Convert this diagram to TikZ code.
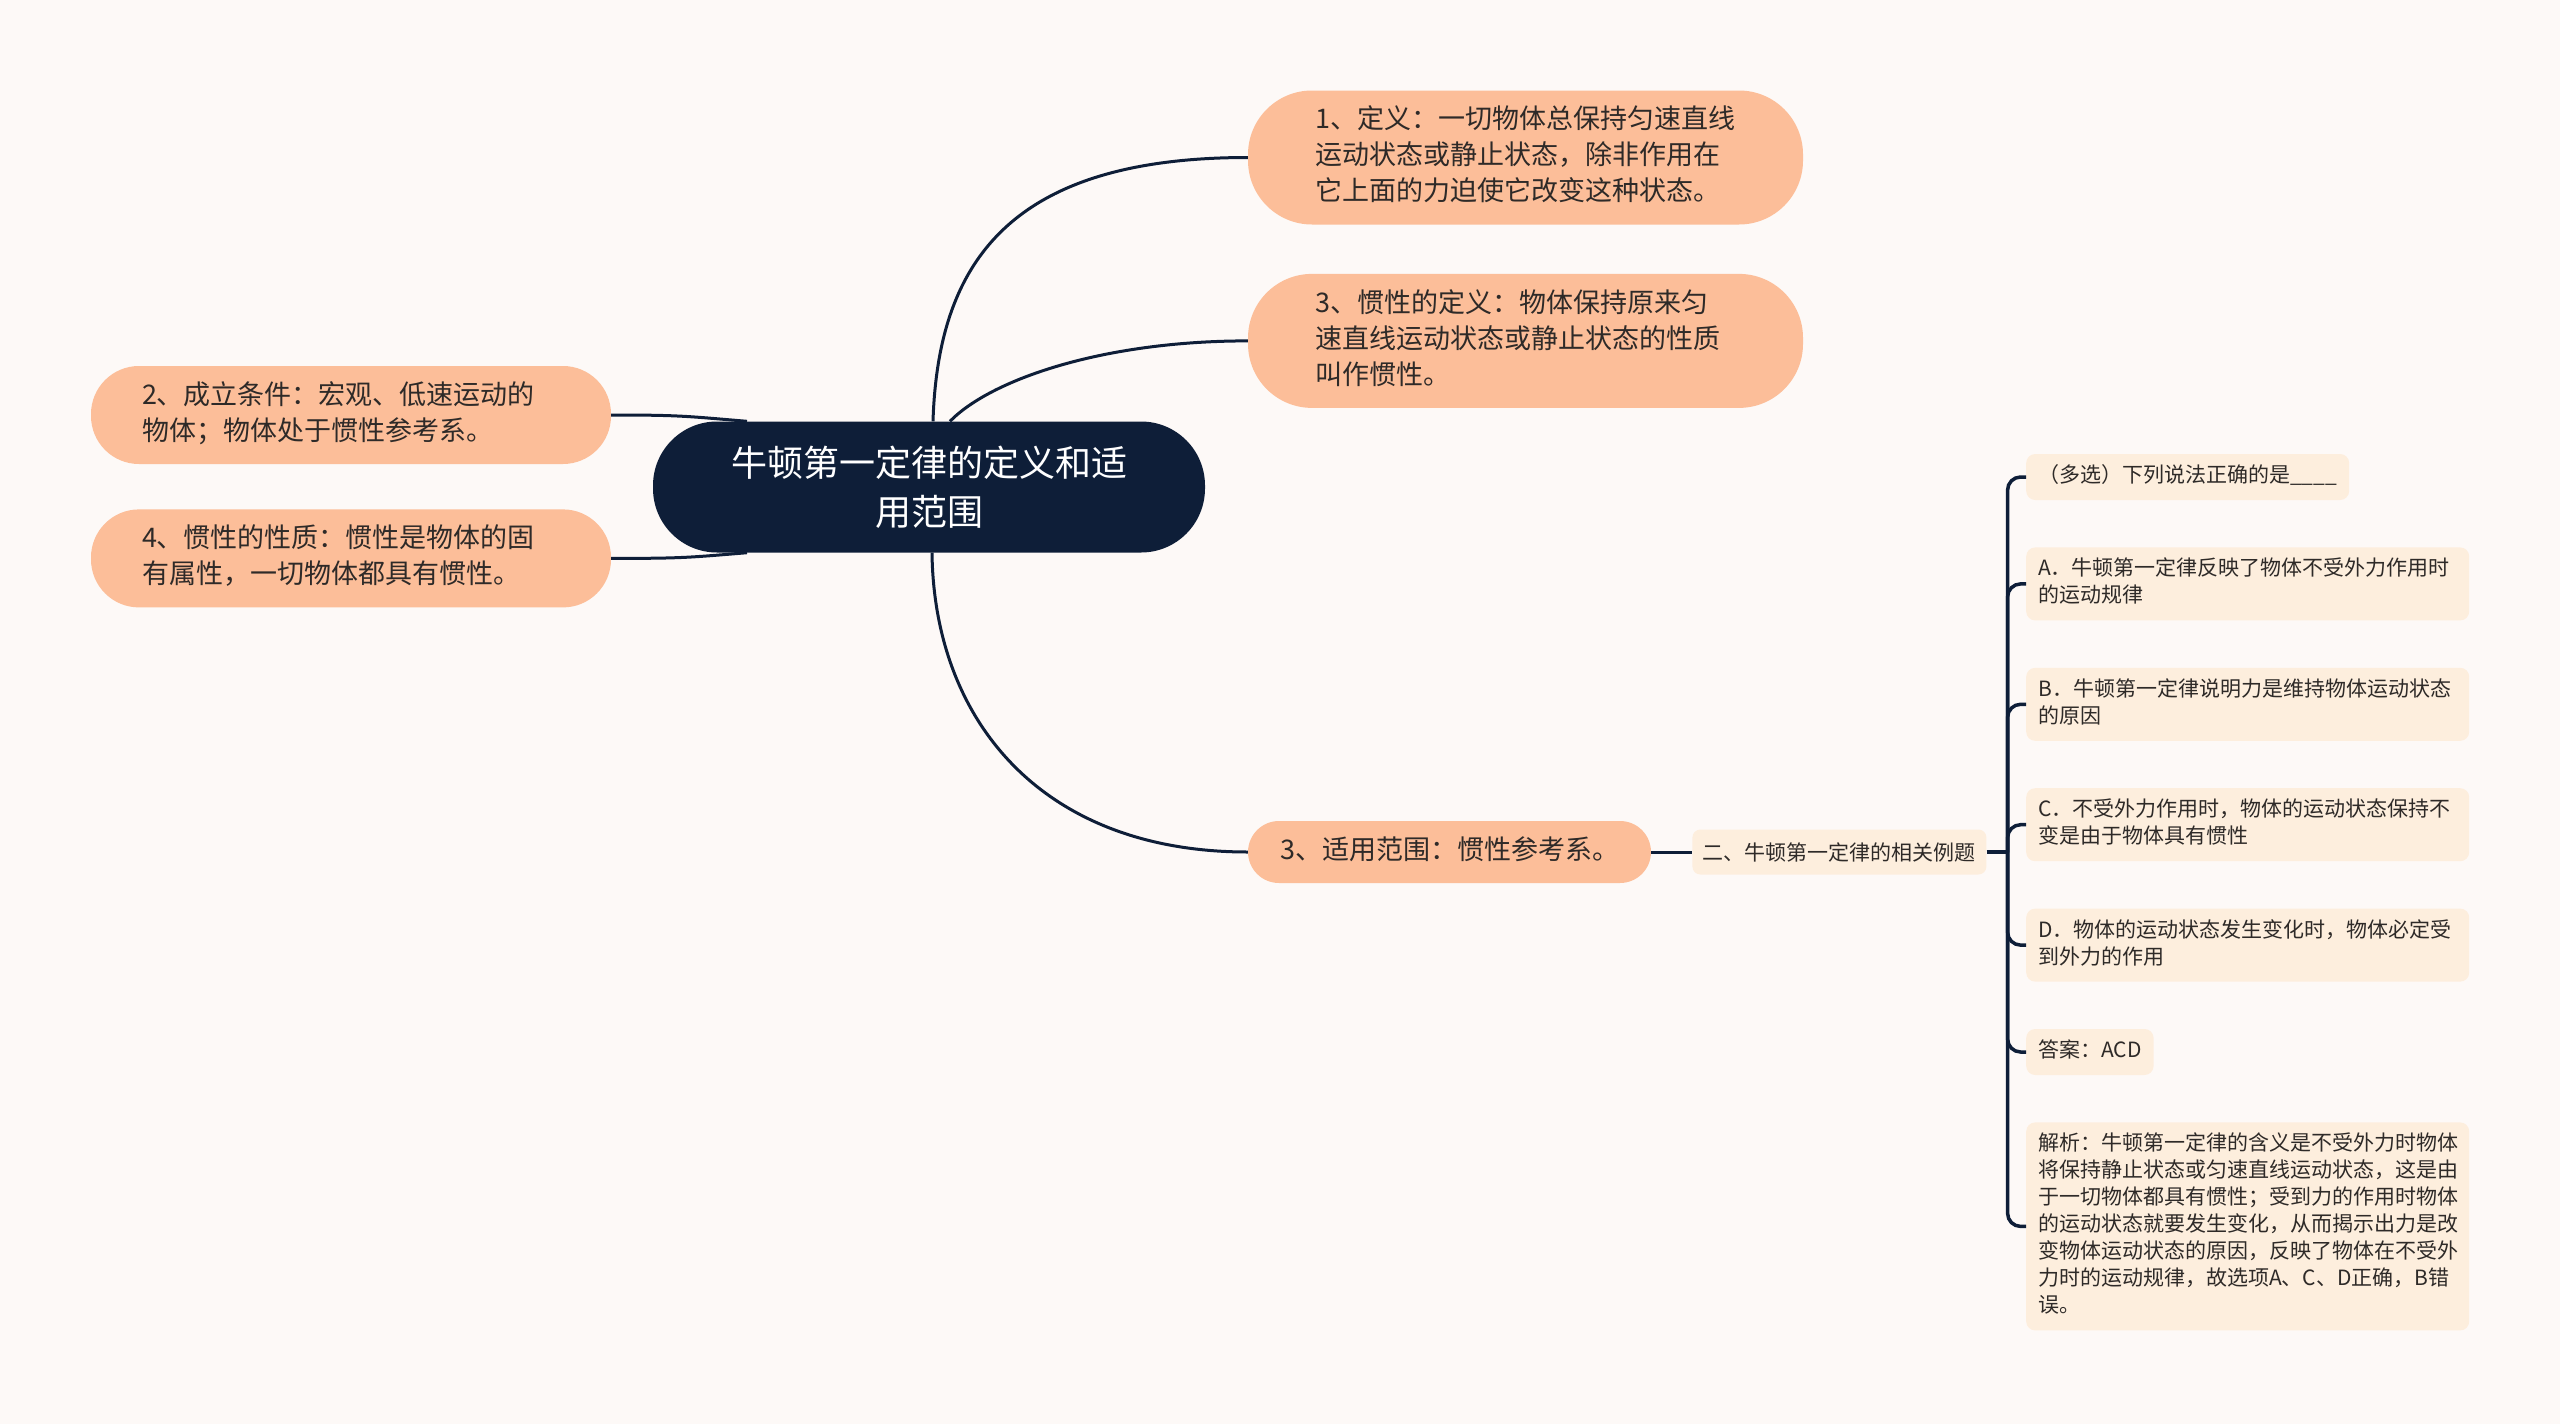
\documentclass[tikz,border=0pt]{standalone}
\usepackage{fontspec}
\setmainfont{Noto Sans CJK SC}
\usetikzlibrary{positioning}

\definecolor{paper}{HTML}{FDF9F7}
\definecolor{navy}{HTML}{0E1E38}
\definecolor{peach}{HTML}{FCBE99}
\definecolor{cream}{HTML}{FDEEDD}
\definecolor{ink}{HTML}{2E2A28}

\begin{document}
\begin{tikzpicture}[
  x=1pt, y=-1pt,
  central/.style={fill=navy, text=white, rounded corners=64pt, minimum width=552pt, minimum height=131pt, align=center, font=\fontsize{36}{49}\selectfont},
  topic/.style={fill=peach, text=ink, align=left, inner ysep=13pt, font=\fontsize{27}{36}\selectfont, execute at begin node=\strut, execute at end node=\strut},
  subtopic/.style={fill=cream, text=ink, rounded corners=8pt, inner xsep=10.5pt, minimum height=45pt, font=\fontsize{21}{26}\selectfont},
  qbox/.style={fill=cream, text=ink, rounded corners=9pt, align=left, inner xsep=12pt, inner ysep=9.5pt, font=\fontsize{21}{27}\selectfont, execute at begin node=\strut, execute at end node=\strut},
  branch/.style={draw=navy, line width=3pt},
  spinel/.style={draw=navy, line width=3.5pt, rounded corners=13pt}
]
  \fill[paper] (0,0) rectangle (2560,1424);

  % root and first level
  \node[central] (root) at (929,487) {牛顿第一定律的定义和适\\用范围};
  \node[topic, rounded corners=64pt, text width=420pt, inner xsep=67.5pt] (defn) at (1525.5,157.5) {1、定义：一切物体总保持匀速直线\\运动状态或静止状态，除非作用在\\它上面的力迫使它改变这种状态。};
  \node[topic, rounded corners=64pt, text width=420pt, inner xsep=67.5pt, below=49pt of defn] (inert) {3、惯性的定义：物体保持原来匀\\速直线运动状态或静止状态的性质\\叫作惯性。};
  \node[topic, rounded corners=48pt, text width=418pt, inner xsep=51pt] (cond) at (351,415) {2、成立条件：宏观、低速运动的\\物体；物体处于惯性参考系。};
  \node[topic, rounded corners=48pt, text width=418pt, inner xsep=51pt, below=45pt of cond] (prop) {4、惯性的性质：惯性是物体的固\\有属性，一切物体都具有惯性。};
  \node[topic, rounded corners=31pt, inner xsep=32pt] (scope) at (1449.5,852) {3、适用范围：惯性参考系。};
  \node[subtopic, right=41pt of scope] (ex) {二、牛顿第一定律的相关例题};
  \coordinate[right=21pt of ex] (spine);

  % example question
  \node[qbox, anchor=west] (qa) at (2026,477) {（多选）下列说法正确的是\_\_\_\_};
  \node[qbox, text width=419pt, below right=47pt and 0pt of qa.south west] (oa) {A．牛顿第一定律反映了物体不受外力作用时\\的运动规律};
  \node[qbox, text width=419pt, below right=47pt and 0pt of oa.south west] (ob) {B．牛顿第一定律说明力是维持物体运动状态\\的原因};
  \node[qbox, text width=419pt, below right=47pt and 0pt of ob.south west] (oc) {C．不受外力作用时，物体的运动状态保持不\\变是由于物体具有惯性};
  \node[qbox, text width=419pt, below right=47pt and 0pt of oc.south west] (od) {D．物体的运动状态发生变化时，物体必定受\\到外力的作用};
  \node[qbox, below right=47pt and 0pt of od.south west] (ans) {答案：ACD};
  \node[qbox, text width=419pt, below right=47pt and 0pt of ans.south west] (expl) {解析：牛顿第一定律的含义是不受外力时物体\\将保持静止状态或匀速直线运动状态，这是由\\于一切物体都具有惯性；受到力的作用时物体\\的运动状态就要发生变化，从而揭示出力是改\\变物体运动状态的原因，反映了物体在不受外\\力时的运动规律，故选项A、C、D正确，B错\\误。};

  % connectors
  \draw[branch] ([xshift=4pt]root.north) .. controls +(5,-160) and +(-237,0) .. (defn.west);
  \draw[branch] ([xshift=21pt]root.north) .. controls +(40,-41) and +(-147,0) .. (inert.west);
  \draw[branch] ([xshift=3pt]root.south) .. controls +(2,167) and +(-207,0) .. (scope.west);
  \draw[branch] (cond.east) .. controls +(70,0) and +(-60,-5) .. ([xshift=-182pt]root.north);
  \draw[branch] (prop.east) .. controls +(70,0) and +(-60,5) .. ([xshift=-182pt]root.south);
  \draw[branch] (scope.east) -- (ex.west);
  \draw[spinel] (ex.east) -- (spine);
  \foreach \k in {qa,oa,ob,oc,od,ans,expl}
    \draw[spinel] (spine) |- (\k.west);
\end{tikzpicture}
\end{document}
